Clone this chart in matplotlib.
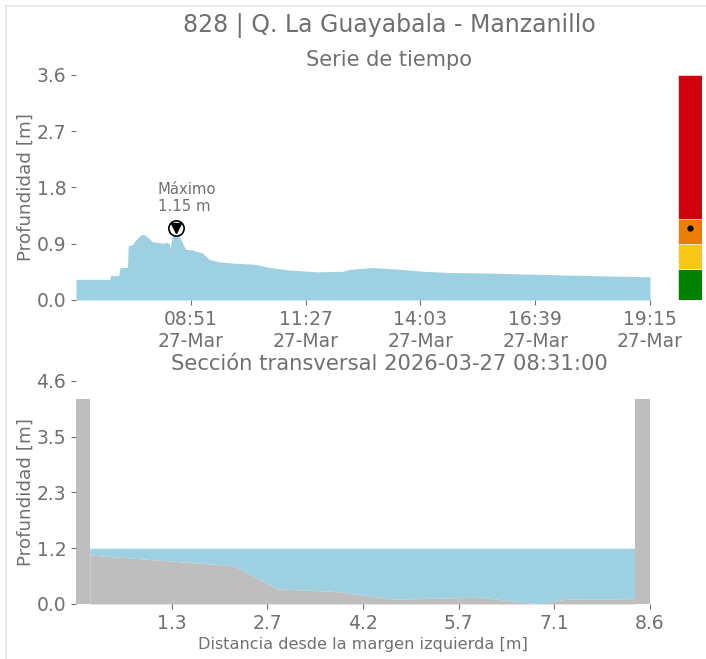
import numpy as np
import pandas as pd
import matplotlib
matplotlib.use("Agg")
import matplotlib.pyplot as plt
import matplotlib.dates as mdates
from matplotlib.lines import Line2D

# time series (27-Mar-2026)
times = ["06:15", "07:01", "07:02", "07:13", "07:15", "07:25", "07:26", "07:31",
         "07:37", "07:43", "07:47", "07:53", "07:59", "08:06", "08:13", "08:18",
         "08:22", "08:23", "08:26", "08:31", "08:37", "08:44", "08:53", "09:07",
         "09:16", "09:29", "09:48", "10:19", "10:38", "11:05", "11:42", "12:18",
         "12:27", "12:58", "13:35", "14:06", "14:42", "15:37", "16:44", "17:52",
         "19:15"]
depth = [0.33, 0.33, 0.39, 0.39, 0.52, 0.52, 0.87, 0.88,
         0.97, 1.04, 1.05, 1.00, 0.93, 0.92, 0.91, 0.92,
         0.90, 0.83, 1.04, 1.15, 0.98, 0.81, 0.80, 0.75,
         0.65, 0.61, 0.59, 0.57, 0.52, 0.48, 0.45, 0.46,
         0.49, 0.52, 0.49, 0.46, 0.44, 0.43, 0.41, 0.39,
         0.37]
t = pd.to_datetime(["2026-03-27 " + s for s in times])
peak_time = pd.Timestamp("2026-03-27 08:31")
peak_depth = 1.15

# alert thresholds
levels = [0.0, 0.5, 0.9, 1.3, 3.6]
level_colors = ["#008000", "#f5c816", "#e87e04", "#d0000f"]

# cross section
section_x = [0.02, 2.21, 2.89, 3.61, 3.84, 4.14, 4.65, 5.98, 6.85, 7.30, 8.34]
section_z = [1.01, 0.79, 0.31, 0.27, 0.25, 0.19, 0.10, 0.14, 0.00, 0.10, 0.11]
wall_left = [-0.19, 0.02]
wall_right = [8.34, 8.57]
wall_height = 4.23
water_level = 1.15
dist_labels = ["1.3", "2.7", "4.2", "5.7", "7.1", "8.6"]
depth_labels = ["0.0", "1.2", "2.3", "3.5", "4.6"]

txt = "#707070"
water = "#9dd0e1"
ground = "#bebebe"

fig = plt.figure(figsize=(7.06, 6.59), dpi=100)
ax1 = fig.add_axes([0.1076, 0.5448, 0.8131, 0.3414])
axc = fig.add_axes([0.9603, 0.5448, 0.034, 0.3414])
ax2 = fig.add_axes([0.1076, 0.0835, 0.8131, 0.3384])

for ax in (ax1, axc, ax2):
    for s in ax.spines.values():
        s.set_visible(False)
    ax.tick_params(colors=txt, labelcolor=txt, labelsize=13.5, length=3.5, width=0.8)

# time series
ax1.fill_between(t, 0, depth, color=water, lw=0)
ax1.set_xlim(t[0], t[-1])
ax1.set_ylim(0, 3.6)
ax1.set_yticks(np.linspace(0, 3.6, 5))
ax1.yaxis.set_major_formatter(plt.FormatStrFormatter("%.1f"))
xt = pd.date_range(t[0], t[-1], periods=6)[1:]
ax1.set_xticks(xt)
ax1.xaxis.set_major_formatter(mdates.DateFormatter("%H:%M\n%d-%b"))
ax1.set_ylabel("Profundidad [m]", color=txt, fontsize=13.2, labelpad=1.5)
ax1.plot(peak_time, peak_depth, "o", ms=11, mfc="white", mec="black", mew=1.2, zorder=5)
ax1.plot(peak_time, peak_depth, "v", ms=6.5, color="black", zorder=6)
ax1.text(peak_time + pd.Timedelta(minutes=15), peak_depth + 0.22, "Máximo\n1.15 m",
         ha="center", va="bottom", multialignment="left", color=txt, fontsize=10.7)

# level bar
for lo, hi, c in zip(levels[:-1], levels[1:], level_colors):
    axc.bar(0, hi - lo, bottom=lo, width=1, color=c, edgecolor="white", lw=0.4)
axc.plot(0, peak_depth, "o", color="black", ms=3.5)
axc.set_xlim(-0.5, 0.5)
axc.set_ylim(0, 3.6)
axc.set_xticks([])
axc.set_yticks([])

# cross section
ax2.fill_between(section_x, section_z, water_level, color=water, lw=0)
ax2.fill_between(section_x, 0, section_z, color=ground, lw=0)
ax2.fill_between(wall_left, 0, wall_height, color=ground, lw=0)
ax2.fill_between(wall_right, 0, wall_height, color=ground, lw=0)
ax2.set_xlim(wall_left[0], wall_right[1])
ax2.set_ylim(0, 4.6)
ax2.set_xticks(np.linspace(wall_left[0], wall_right[1], 7)[1:])
ax2.set_xticklabels(dist_labels)
ax2.set_yticks(np.linspace(0, 4.6, 5))
ax2.set_yticklabels(depth_labels)
ax2.set_ylabel("Profundidad [m]", color=txt, fontsize=13.2, labelpad=1.5)
ax2.set_xlabel("Distancia desde la margen izquierda [m]", color=txt, fontsize=11.6, labelpad=3)

fig.text(0.551, 0.962, "828 | Q. La Guayabala - Manzanillo", ha="center", va="center",
         color=txt, fontsize=17)
fig.text(0.551, 0.909, "Serie de tiempo", ha="center", va="center", color=txt, fontsize=15)
fig.text(0.551, 0.448, "Sección transversal 2026-03-27 08:31:00", ha="center", va="center",
         color=txt, fontsize=15.2)

# card border
fig.add_artist(Line2D([0.0085, 1.0], [0.9915, 0.9915], color="#e6e6e6", lw=1.2))
fig.add_artist(Line2D([0.0089, 0.0089], [0.0, 0.9915], color="#e6e6e6", lw=1.2))

fig.savefig("out.png", dpi=100)
